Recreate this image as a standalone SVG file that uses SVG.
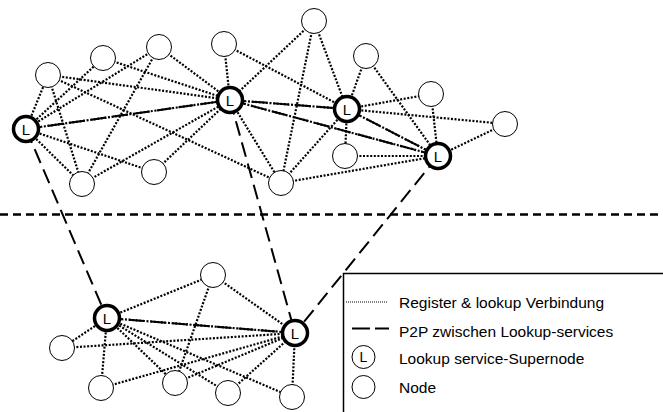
<svg xmlns="http://www.w3.org/2000/svg" width="663" height="412" viewBox="0 0 663 412">
<style>
.dot{stroke:#000;stroke-width:2.2;stroke-dasharray:2 1.6;fill:none}
.p2p{stroke:#000;stroke-width:2;stroke-dasharray:15 7;fill:none}
.n{fill:#fff;stroke:#000;stroke-width:1}
.s{fill:#fff;stroke:#000;stroke-width:3.5}
.t{font-family:"Liberation Sans",Arial,sans-serif;font-size:15px;fill:#000}
.c{text-anchor:middle}
.lg{font-family:"Liberation Sans",Arial,sans-serif;font-size:15.5px;fill:#000}
</style>
<rect width="663" height="412" fill="#fff"/>
<g id="connectors">
<line class="dot" x1="26" y1="129" x2="48" y2="75"/>
<line class="dot" x1="26" y1="129" x2="103" y2="58"/>
<line class="dot" x1="26" y1="129" x2="159" y2="47"/>
<line class="dot" x1="26" y1="129" x2="154" y2="172"/>
<line class="dot" x1="26" y1="129" x2="82" y2="184"/>
<line class="dot" x1="26" y1="129" x2="230" y2="100"/>
<line class="dot" x1="48" y1="75" x2="82" y2="184"/>
<line class="dot" x1="48" y1="75" x2="230" y2="100"/>
<line class="dot" x1="48" y1="75" x2="281" y2="183"/>
<line class="dot" x1="103" y1="58" x2="230" y2="100"/>
<line class="dot" x1="159" y1="47" x2="82" y2="184"/>
<line class="dot" x1="159" y1="47" x2="230" y2="100"/>
<line class="dot" x1="224" y1="44" x2="230" y2="100"/>
<line class="dot" x1="224" y1="44" x2="347" y2="109"/>
<line class="dot" x1="314" y1="21" x2="230" y2="100"/>
<line class="dot" x1="314" y1="21" x2="281" y2="183"/>
<line class="dot" x1="314" y1="21" x2="347" y2="109"/>
<line class="dot" x1="366" y1="56" x2="347" y2="109"/>
<line class="dot" x1="366" y1="56" x2="438" y2="156"/>
<line class="dot" x1="347" y1="109" x2="431" y2="94"/>
<line class="dot" x1="347" y1="109" x2="505" y2="124"/>
<line class="dot" x1="347" y1="109" x2="345" y2="156"/>
<line class="dot" x1="347" y1="109" x2="281" y2="183"/>
<line class="dot" x1="431" y1="94" x2="438" y2="156"/>
<line class="dot" x1="505" y1="124" x2="438" y2="156"/>
<line class="dot" x1="345" y1="156" x2="438" y2="156"/>
<line class="dot" x1="281" y1="183" x2="438" y2="156"/>
<line class="dot" x1="230" y1="100" x2="281" y2="183"/>
<line class="dot" x1="154" y1="172" x2="230" y2="100"/>
<line class="dot" x1="82" y1="184" x2="230" y2="100"/>
<line class="dot" x1="230" y1="100" x2="347" y2="109"/>
<line class="dot" x1="230" y1="100" x2="438" y2="156"/>
<line class="dot" x1="347" y1="109" x2="438" y2="156"/>
<line class="dot" x1="107" y1="318" x2="213" y2="275"/>
<line class="dot" x1="213" y1="275" x2="295" y2="333"/>
<line class="dot" x1="213" y1="275" x2="175" y2="383"/>
<line class="dot" x1="107" y1="318" x2="62" y2="348"/>
<line class="dot" x1="107" y1="318" x2="101" y2="388"/>
<line class="dot" x1="107" y1="318" x2="175" y2="383"/>
<line class="dot" x1="107" y1="318" x2="228" y2="393"/>
<line class="dot" x1="107" y1="318" x2="292" y2="397"/>
<line class="dot" x1="107" y1="318" x2="295" y2="333"/>
<line class="dot" x1="62" y1="348" x2="295" y2="333"/>
<line class="dot" x1="101" y1="388" x2="295" y2="333"/>
<line class="dot" x1="175" y1="383" x2="295" y2="333"/>
<line class="dot" x1="228" y1="393" x2="295" y2="333"/>
<line class="dot" x1="292" y1="397" x2="295" y2="333"/>
<line class="p2p" x1="26" y1="129" x2="230" y2="100"/>
<line class="p2p" x1="230" y1="100" x2="347" y2="109"/>
<line class="p2p" x1="230" y1="100" x2="438" y2="156"/>
<line class="p2p" x1="347" y1="109" x2="438" y2="156"/>
<line class="p2p" x1="26" y1="129" x2="107" y2="318"/>
<line class="p2p" x1="230" y1="100" x2="295" y2="333"/>
<line class="p2p" x1="438" y1="156" x2="295" y2="333"/>
<line class="p2p" x1="107" y1="318" x2="295" y2="333"/>
</g>
<line id="divider" x1="0" y1="214.5" x2="663" y2="214.5" stroke="#000" stroke-width="2.5" stroke-dasharray="8 5"/>
<g id="nA"><circle class="n" cx="48" cy="75" r="12.5"/></g>
<g id="nB"><circle class="n" cx="103" cy="58" r="12.5"/></g>
<g id="nC"><circle class="n" cx="159" cy="47" r="12.5"/></g>
<g id="nD"><circle class="n" cx="224" cy="44" r="12.5"/></g>
<g id="nE"><circle class="n" cx="314" cy="21" r="12.5"/></g>
<g id="nF"><circle class="n" cx="366" cy="56" r="12.5"/></g>
<g id="nG"><circle class="n" cx="431" cy="94" r="12.5"/></g>
<g id="nH"><circle class="n" cx="505" cy="124" r="12.5"/></g>
<g id="nI"><circle class="n" cx="345" cy="156" r="12.5"/></g>
<g id="nJ"><circle class="n" cx="281" cy="183" r="12.5"/></g>
<g id="nK"><circle class="n" cx="154" cy="172" r="12.5"/></g>
<g id="nM"><circle class="n" cx="82" cy="184" r="12.5"/></g>
<g id="L1"><circle class="s" cx="26" cy="129" r="12.5"/><text class="t c" x="26" y="134.5">L</text></g>
<g id="L2"><circle class="s" cx="230" cy="100" r="12.5"/><text class="t c" x="230" y="105.5">L</text></g>
<g id="L3"><circle class="s" cx="347" cy="109" r="12.5"/><text class="t c" x="347" y="114.5">L</text></g>
<g id="L4"><circle class="s" cx="438" cy="156" r="12.5"/><text class="t c" x="438" y="161.5">L</text></g>
<g id="L5"><circle class="s" cx="107" cy="318" r="12.5"/><text class="t c" x="107" y="323.5">L</text></g>
<g id="L6"><circle class="s" cx="295" cy="333" r="12.5"/><text class="t c" x="295" y="338.5">L</text></g>
<g id="nN1"><circle class="n" cx="213" cy="275" r="12.5"/></g>
<g id="nN2"><circle class="n" cx="62" cy="348" r="12.5"/></g>
<g id="nN3"><circle class="n" cx="101" cy="388" r="12.5"/></g>
<g id="nN4"><circle class="n" cx="175" cy="383" r="12.5"/></g>
<g id="nN5"><circle class="n" cx="228" cy="393" r="12.5"/></g>
<g id="nN6"><circle class="n" cx="292" cy="397" r="12.5"/></g>
<g id="legend">
<path d="M343.5,412 V273.5 H663" fill="none" stroke="#000" stroke-width="1.5"/>
<line x1="346" y1="302" x2="388" y2="302" stroke="#000" stroke-width="1" stroke-dasharray="1 1"/>
<text class="lg" x="399" y="308">Register &amp; lookup Verbindung</text>
<line x1="352" y1="328.5" x2="389" y2="328.5" stroke="#000" stroke-width="2" stroke-dasharray="18 5"/>
<text class="lg" x="399" y="336.5">P2P zwischen Lookup-services</text>
<circle cx="363.5" cy="357" r="11.5" fill="#fff" stroke="#000" stroke-width="1"/>
<text class="t c" x="363.5" y="362" style="font-size:14px">L</text>
<text class="lg" x="399" y="363.5">Lookup service-Supernode</text>
<circle cx="363.5" cy="387" r="11.5" fill="#fff" stroke="#000" stroke-width="1"/>
<text class="lg" x="399" y="393">Node</text>
</g>
</svg>
